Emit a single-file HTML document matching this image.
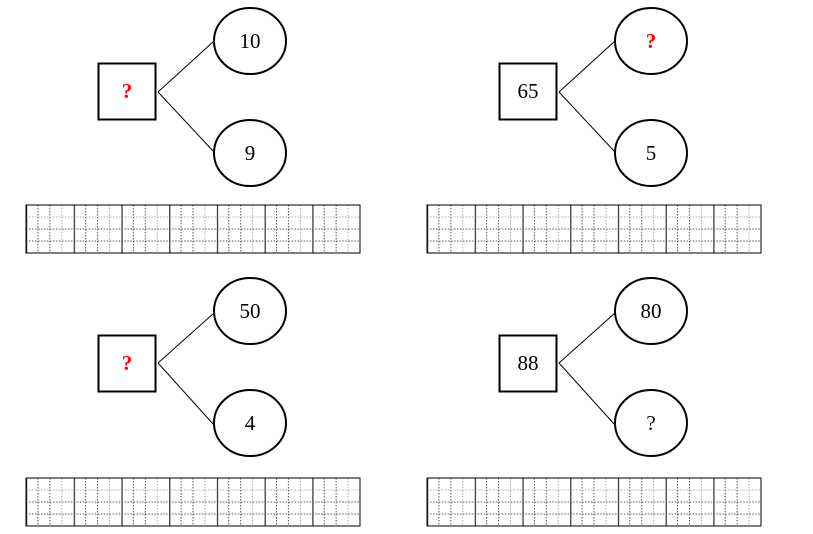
<!DOCTYPE html>
<html><head><style>html,body{margin:0;padding:0;background:#fff}svg{display:block}</style></head>
<body>
<svg width="813" height="534" xmlns="http://www.w3.org/2000/svg" font-family="Liberation Serif, serif">
<defs>
<g id="cell">
<g stroke="#555" stroke-width="1" stroke-dasharray="1.5,1.5">
<line x1="11.93" y1="0" x2="11.93" y2="48"/><line x1="23.86" y1="0" x2="23.86" y2="48"/><line x1="35.79" y1="0" x2="35.79" y2="48" stroke="#aaa"/>
<line x1="0" y1="12" x2="47.7" y2="12" stroke="#aaa"/><line x1="0" y1="24" x2="47.7" y2="24"/><line x1="0" y1="36" x2="47.7" y2="36"/>
</g>
<line x1="0.5" y1="0" x2="0.5" y2="48" stroke="#333" stroke-width="1.5"/>
</g>
<pattern id="g1" patternUnits="userSpaceOnUse" width="47.714" height="48" x="26" y="205"><use href="#cell"/></pattern>
<pattern id="g2" patternUnits="userSpaceOnUse" width="47.714" height="48" x="427" y="205"><use href="#cell"/></pattern>
<pattern id="g3" patternUnits="userSpaceOnUse" width="47.714" height="48" x="26" y="478"><use href="#cell"/></pattern>
<pattern id="g4" patternUnits="userSpaceOnUse" width="47.714" height="48" x="427" y="478"><use href="#cell"/></pattern>
</defs>
<g stroke="#000" fill="none">
<rect x="26" y="205" width="334" height="48" fill="url(#g1)" stroke="#000"/>
<rect x="427" y="205" width="334" height="48" fill="url(#g2)" stroke="#000"/>
<rect x="26" y="478" width="334" height="48" fill="url(#g3)" stroke="#000"/>
<rect x="427" y="478" width="334" height="48" fill="url(#g4)" stroke="#000"/>
<rect x="98.5" y="63.5" width="57" height="56" stroke-width="2" fill="#fff"/>
<ellipse cx="250" cy="41" rx="36" ry="33" stroke-width="2"/>
<ellipse cx="250" cy="153" rx="36" ry="33" stroke-width="2"/>
<line x1="158" y1="92" x2="214" y2="41"/><line x1="158" y1="92" x2="214" y2="152"/>
<rect x="499.5" y="63.5" width="57" height="56" stroke-width="2"/>
<ellipse cx="651" cy="41" rx="36" ry="33" stroke-width="2"/>
<ellipse cx="651" cy="153" rx="36" ry="33" stroke-width="2"/>
<line x1="559" y1="92" x2="615" y2="41"/><line x1="559" y1="92" x2="615" y2="152"/>
<rect x="98.5" y="335.5" width="57" height="56" stroke-width="2"/>
<ellipse cx="250" cy="311" rx="36" ry="33" stroke-width="2"/>
<ellipse cx="250" cy="423" rx="36" ry="33" stroke-width="2"/>
<line x1="158" y1="363" x2="214" y2="313"/><line x1="158" y1="363" x2="214" y2="425"/>
<rect x="499.5" y="335.5" width="57" height="56" stroke-width="2"/>
<ellipse cx="651" cy="311" rx="36" ry="33" stroke-width="2"/>
<ellipse cx="651" cy="423" rx="36" ry="33" stroke-width="2"/>
<line x1="559" y1="363" x2="615" y2="313"/><line x1="559" y1="363" x2="615" y2="425"/>
</g>
<g font-size="21" text-anchor="middle" fill="#000">
<text x="127" y="98" fill="#f00" font-weight="bold">?</text>
<text x="250" y="48">10</text>
<text x="250" y="160">9</text>
<text x="528" y="98">65</text>
<text x="651" y="48" fill="#f00" font-weight="bold">?</text>
<text x="651" y="160">5</text>
<text x="127" y="370" fill="#f00" font-weight="bold">?</text>
<text x="250" y="318">50</text>
<text x="250" y="430">4</text>
<text x="528" y="370">88</text>
<text x="651" y="318">80</text>
<text x="651" y="430">?</text>
</g>
</svg>
</body></html>
